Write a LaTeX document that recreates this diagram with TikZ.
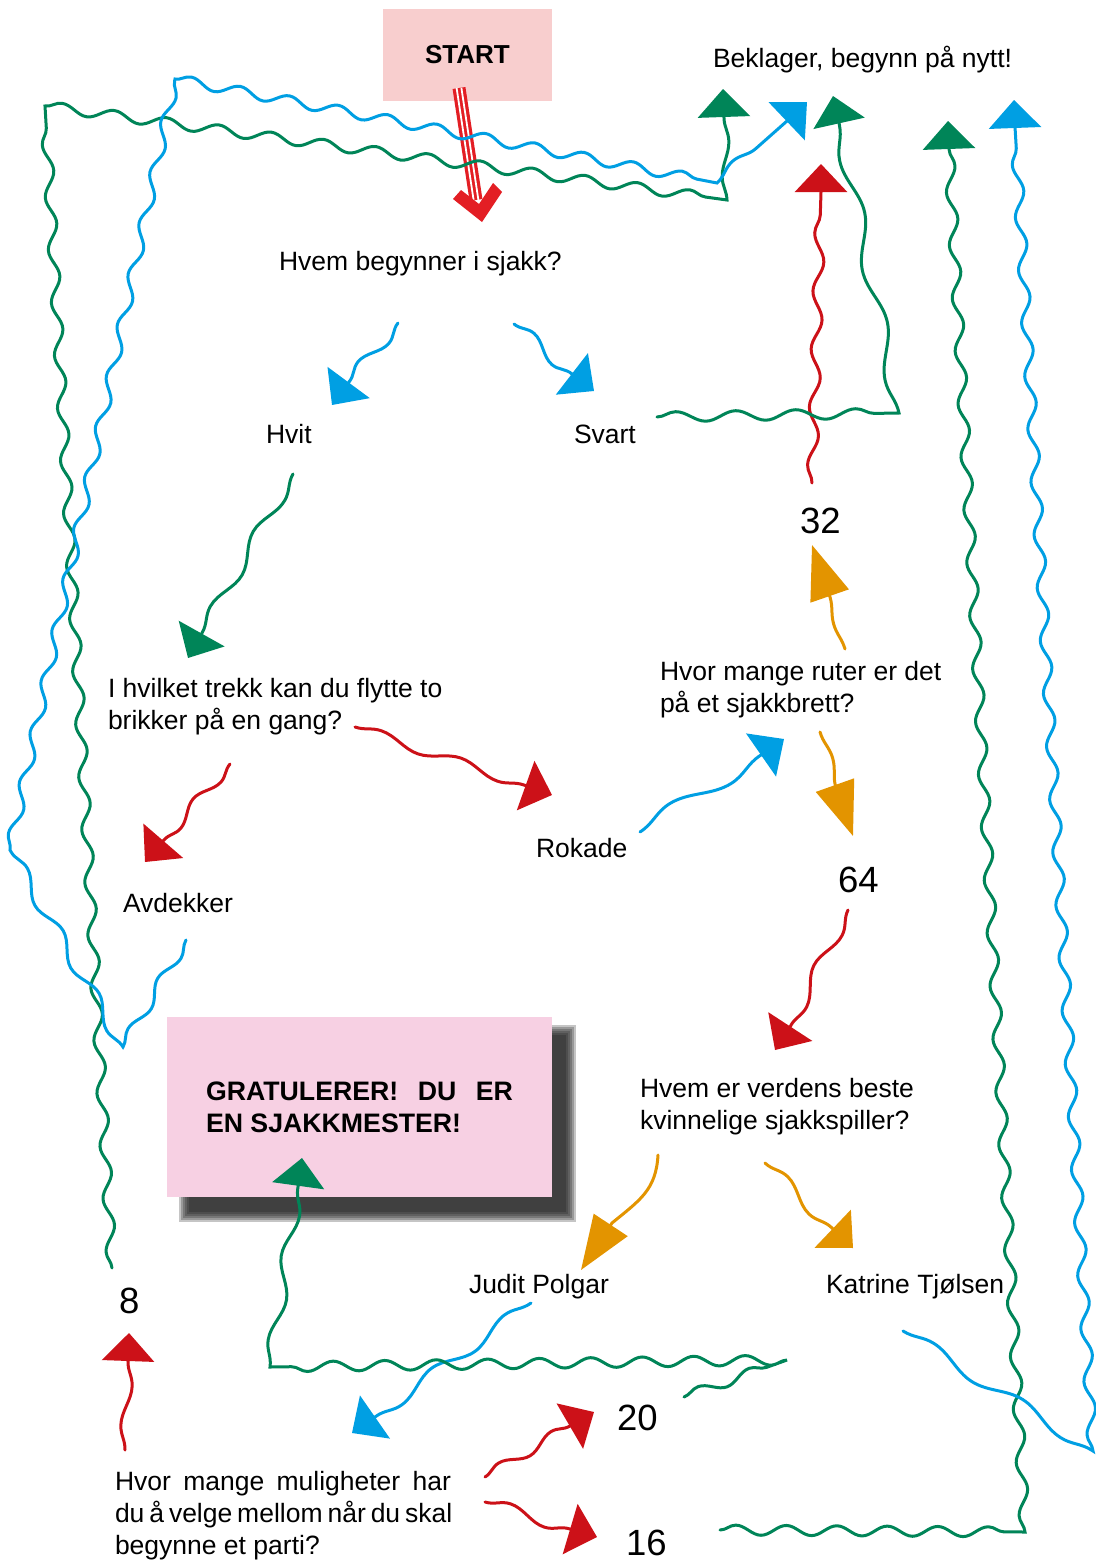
\documentclass[tikz,border=0pt]{standalone}
\usepackage{fontspec}
\setmainfont{Liberation Sans}
\usetikzlibrary{arrows.meta,decorations.pathmorphing}
\definecolor{cblue}{RGB}{0,159,227}
\definecolor{cgreen}{RGB}{0,133,88}
\definecolor{cred}{RGB}{204,17,24}
\definecolor{corange}{RGB}{227,148,0}
\definecolor{sred}{RGB}{227,30,36}
\definecolor{pinkA}{RGB}{248,206,206}
\definecolor{pinkB}{RGB}{247,208,227}
\frenchspacing
\begin{document}
\begin{tikzpicture}[x=1pt,y=-1pt,
  every node/.style={inner sep=0pt,outer sep=0pt},
  txt/.style={font=\fontsize{26.5}{32}\selectfont,anchor=base west},
  num/.style={font=\fontsize{36.5}{44}\selectfont,anchor=base west},
  wire/.style={line width=3pt,line cap=round},
  hd/.style={-{Triangle[length=28pt,width=52pt]}},
  hdl/.style={-{Triangle[length=54pt,width=40pt]}},
  sn/.style 2 args={decoration={snake,segment length=#1,amplitude=#2}},
  snm/.style 2 args={decoration={snake,segment length=#1,amplitude=#2,mirror}},
]
\useasboundingbox (0,0) rectangle (1095,1560);
\fill[white] (0,0) rectangle (1095,1560);

% ---------- boxes ----------
\node[fill=pinkA,minimum width=169pt,minimum height=92pt,
      font=\bfseries\fontsize{26}{31}\selectfont] (start) at (467.5,55) {START};
\foreach \d in {0,2,4,6,8,10}
  \fill[black!90,opacity=0.25] (179+\d,1025+\d) rectangle (576-\d,1222-\d);
\node[fill=pinkB,minimum width=385pt,minimum height=180pt,
      font=\bfseries\fontsize{26.7}{32}\selectfont] (win) at (359.5,1107)
  {\vbox{\hbox to 307pt{GRATULERER! DU ER}\hbox{EN SJAKKMESTER!}}};

% ---------- texts ----------
\node[txt] (bekl) at (713,68) {Beklager, begynn på nytt!};
\node[txt] (q1) at (279,270) {Hvem begynner i sjakk?};
\node[txt] (hvit) at (266,443) {Hvit};
\node[txt] (svart) at (574,443) {Svart};
\node[txt] (q2) at (108,697) {\vtop{\hbox{I hvilket trekk kan du flytte to}\hbox{brikker på en gang?}}};
\node[txt] (avd) at (123,912) {Avdekker};
\node[txt] (rok) at (536,857) {Rokade};
\node[num] (n32) at (800,533) {32};
\node[txt] (q3) at (660,680) {\vtop{\hbox{Hvor mange ruter er det}\hbox{på et sjakkbrett?}}};
\node[num] (n64) at (838,892) {64};
\node[txt] (q4) at (640,1097) {\vtop{\hbox{Hvem er verdens beste}\hbox{kvinnelige sjakkspiller?}}};
\node[txt] (judit) at (469,1293) {Judit Polgar};
\node[txt] (kat) at (826,1293) {Katrine Tjølsen};
\node[num] (n8) at (119,1313) {8};
\node[num] (n20) at (617,1430) {20};
\node[num] (n16) at (626,1555) {16};
\node[txt] (q5) at (115,1490) {\vtop{\hbox to 336pt{Hvor mange muligheter har}\hbox to 336pt{du å velge mellom når du skal}\hbox{begynne et parti?}}};

% ---------- start arrow ----------
\coordinate (sa) at (459,88); \coordinate (sb) at (476,200);
\draw[sred,line width=13pt] (sa) -- (sb);
\draw[white,line width=1.8pt] ([xshift=-2.4pt]sa) -- ([xshift=-2.4pt]sb);
\draw[white,line width=1.8pt] ([xshift=2.4pt]sa) -- ([xshift=2.4pt]sb);
\fill[sred] (453,199) -- (482,222) -- (502,192) -- (493,183) -- (479,204) -- (461,190) -- cycle;

% ---------- short connectors ----------
\coordinate (a1s) at (398,323); \coordinate (a1b) at (349,382); \coordinate (a1t) at (332,405);
\draw[wire,cblue,hd] (a1s) decorate[sn={68}{6}]{-- (a1b)} -- (a1t);
\coordinate (a2s) at (514,324); \coordinate (a2b) at (572,374); \coordinate (a2t) at (594,391);
\draw[wire,cblue,hd] (a2s) decorate[sn={68}{6}]{-- (a2b)} -- (a2t);
\coordinate (a3s) at (293,474); \coordinate (a3b) at (202,633); \coordinate (a3t) at (188,658);
\draw[wire,cgreen,hd] (a3s) decorate[sn={86}{6}]{-- (a3b)} -- (a3t);
\coordinate (a4s) at (230,764); \coordinate (a4b) at (164,840); \coordinate (a4t) at (145,862);
\draw[wire,cred,hd] (a4s) decorate[sn={61.8}{5}]{-- (a4b)} -- (a4t);
\coordinate (a5s) at (355,727); \coordinate (a5b) at (524,785); \coordinate (a5t) at (552,795);
\draw[wire,cred,hd] (a5s) decorate[sn={84}{5}]{-- (a5b)} -- (a5t);
\coordinate (a6s) at (640,832); \coordinate (a6b) at (761,755); \coordinate (a6t) at (784,739);
\draw[wire,cblue,hd] (a6s) decorate[sn={127}{8}]{-- (a6b)} -- (a6t);
\coordinate (a7s) at (845,649); \coordinate (a7b) at (830,597); \coordinate (a7t) at (812,545);
\draw[wire,corange,hdl] (a7s) decorate[sn={86}{4}]{-- (a7b)} -- (a7t);
\coordinate (a8s) at (820,732); \coordinate (a8b) at (836,788); \coordinate (a8t) at (853,836);
\draw[wire,corange,hdl] (a8s) decorate[sn={92}{5}]{-- (a8b)} -- (a8t);
\coordinate (a9s) at (848,910); \coordinate (a9b) at (790,1027); \coordinate (a9t) at (775,1050);
\draw[wire,cred,hd] (a9s) decorate[sn={80}{6}]{-- (a9b)} -- (a9t);
\coordinate (a10s) at (658,1155); \coordinate (a10b) at (612,1223); \coordinate (a10t) at (581,1270);
\draw[wire,corange,hdl] (a10s) .. controls (656,1190) and (640,1200) .. (a10b) -- (a10t);
\coordinate (a11s) at (765,1163); \coordinate (a11b) at (832,1228); \coordinate (a11t) at (853,1248);
\draw[wire,corange,hd] (a11s) decorate[sn={82.5}{6}]{-- (a11b)} -- (a11t);
\coordinate (a12s) at (531,1303); \coordinate (a12b) at (375,1417); \coordinate (a12t) at (352,1433);
\draw[wire,cblue,hd] (a12s) decorate[snm={90.5}{6}]{-- (a12b)} -- (a12t);
\coordinate (a13s) at (125,1450); \coordinate (a13b) at (128,1361); \coordinate (a13t) at (129,1333);
\draw[wire,cred,hd] (a13s) decorate[sn={79}{5}]{-- (a13b)} -- (a13t);
\coordinate (a14s) at (485,1477); \coordinate (a14b) at (570,1426); \coordinate (a14t) at (594,1412);
\draw[wire,cred,hd] (a14s) decorate[sn={61}{5}]{-- (a14b)} -- (a14t);
\coordinate (a15s) at (485,1502); \coordinate (a15b) at (570,1529); \coordinate (a15t) at (597,1537);
\draw[wire,cred,hd] (a15s) decorate[sn={79}{6}]{-- (a15b)} -- (a15t);

% ---------- long connectors ----------
\coordinate (l1a) at (112,1268); \coordinate (l1b) at (45,106); \coordinate (l1c) at (727,200);
\coordinate (l1d) at (724,118); \coordinate (l1t) at (723,89);
\draw[wire,cgreen,hd] (l1a) decorate[sn={52.8}{5}]{-- (l1b)} decorate[sn={52.8}{5}]{-- (l1c)}
  decorate[sn={72.5}{4}]{-- (l1d)} -- (l1t);

\coordinate (l2a) at (186,940); \coordinate (l2b) at (123,1047); \coordinate (l2c) at (10,850);
\coordinate (l2d) at (175,79); \coordinate (l2e) at (717,183); \coordinate (l2f) at (787,121);
\coordinate (l2t) at (807,102);
\draw[wire,cblue,hd] (l2a) decorate[sn={58.4}{5}]{-- (l2b)} decorate[sn={72}{6}]{-- (l2c)}
  decorate[sn={52}{5}]{-- (l2d)} decorate[sn={50}{5}]{-- (l2e)}
  decorate[sn={83}{6}]{-- (l2f)} -- (l2t);

\coordinate (l3a) at (812,483); \coordinate (l3b) at (821,192); \coordinate (l3t) at (821,164);
\draw[wire,cred,hd] (l3a) decorate[sn={58}{5}]{-- (l3b)} -- (l3t);

\coordinate (l4a) at (657,417); \coordinate (l4b) at (899,413); \coordinate (l4c) at (839,123);
\coordinate (l4t) at (833,96);
\draw[wire,cgreen,hd] (l4a) decorate[sn={60}{5}]{-- (l4b)} decorate[sn={112}{7}]{-- (l4c)} -- (l4t);

\coordinate (l5a) at (720,1530); \coordinate (l5b) at (1025,1532); \coordinate (l5c) at (949,149);
\coordinate (l5t) at (948,121);
\draw[wire,cgreen,hd] (l5a) decorate[sn={50.5}{5}]{-- (l5b)} decorate[sn={53}{5}]{-- (l5c)} -- (l5t);

\coordinate (l6a) at (903,1331); \coordinate (l6b) at (1093,1451); \coordinate (l6c) at (1015,127);
\coordinate (l6t) at (1014,100);
\draw[wire,cblue,hd] (l6a) decorate[sn={105}{6}]{-- (l6b)} decorate[sn={53}{5}]{-- (l6c)} -- (l6t);

\coordinate (l7a) at (684,1397); \coordinate (l7b) at (787,1360); \coordinate (l7c) at (270,1367);
\coordinate (l7d) at (298,1187); \coordinate (l7t) at (302,1158);
\draw[wire,cgreen,hd] (l7a) decorate[sn={54}{5}]{-- (l7b)} decorate[sn={51.5}{5}]{-- (l7c)}
  decorate[sn={85}{6}]{-- (l7d)} -- (l7t);
\end{tikzpicture}
\end{document}
